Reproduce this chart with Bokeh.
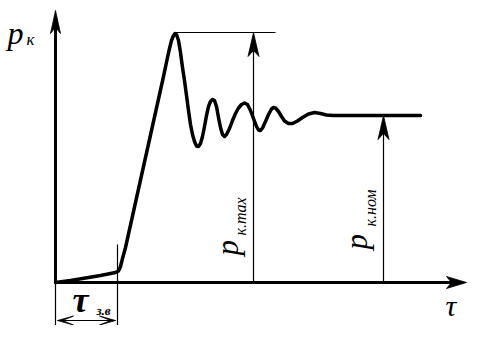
import math
from bokeh.plotting import figure
from bokeh.models import Range1d
from bokeh.core.properties import value
from bokeh.embed import file_html
from bokeh.resources import INLINE

# ---- data (time t, pressure p) in chart units ----
curve_t = [0, 15, 30, 45, 55, 60, 63, 65, 67, 70, 80, 90, 100, 108, 112, 114, 116, 118, 119.5,
           121, 123, 125, 127, 129, 131, 133, 135, 137, 139, 141, 143, 145, 147, 149, 151, 153,
           155, 157, 159, 161, 163, 165, 167, 169, 171, 174, 177, 180, 183, 186, 189, 192, 195,
           198, 201, 203, 205, 207, 210, 213, 216, 218, 220, 223, 226, 229, 233, 237, 242, 247,
           253, 259, 265, 271, 278, 290, 365]
curve_p = [0, 2, 4.5, 7, 9, 10, 11.5, 16, 24, 35, 80, 125, 170, 206, 225, 234, 242, 247, 249,
           248, 242, 230, 215, 202, 187, 172, 158, 148, 141, 136.5, 136, 139, 146, 156, 167, 176,
           181, 183, 182, 176, 165, 155, 148, 146, 148, 154, 162, 169, 174.5, 178, 179.5, 178, 172,
           164, 156, 152.5, 152, 154.5, 161, 168, 173.5, 175, 174.5, 171, 166, 161.5, 159, 159, 161.5, 165,
           168.5, 170, 169, 167.5, 167, 167, 167]

P_MAX = 250          # p_k.max level
P_NOM = 167          # p_k.nom level
T_ZV = 62            # tau_z.v (delay)
T_MAX_MARK = 198     # position of p_k.max arrow
T_NOM_MARK = 328     # position of p_k.nom arrow
T_PEAK_LINE_END = 220
T_AXIS_END = 411
P_AXIS_END = 272
P_DIM_LINE = -38     # level of the tau_z.v dimension arrow

labels_main = ["p", "p", "p", "τ", "τ"]
labels_sub = ["к", "к.max", "к.ном", "з.в"]

FONT = value("Liberation Serif")

p = figure(width=468, height=325, x_range=Range1d(-55, 413), y_range=Range1d(-43, 282),
           output_backend="svg", toolbar_location=None, min_border=0,
           x_axis_location=None, y_axis_location=None)
p.grid.visible = False
p.outline_line_color = None
p.background_fill_color = "white"
p.border_fill_color = "white"


def head(tx, ty, dx, dy, L, W, n):
    bx, by = tx - L * dx, ty - L * dy
    px, py = -dy, dx
    nx, ny = bx + n * dx, by + n * dy
    return ([tx, bx + W * px, nx, bx - W * px], [ty, by + W * py, ny, by - W * py])


# axes
p.line([0, 0], [0, P_AXIS_END - 10], line_width=3, line_color="black")
p.line([0, T_AXIS_END - 10], [0, 0], line_width=3, line_color="black")

# thin guide lines
p.line([0, 0], [0, -60], line_width=1.2, line_color="black")
p.line([T_ZV, T_ZV], [38, -60], line_width=1.2, line_color="black")
p.line([119.5, T_PEAK_LINE_END], [P_MAX, P_MAX], line_width=1.2, line_color="black")
p.line([T_MAX_MARK, T_MAX_MARK], [0, P_MAX - 10], line_width=1.2, line_color="black")
p.line([T_NOM_MARK, T_NOM_MARK], [0, P_NOM - 10], line_width=1.2, line_color="black")
p.line([2, T_ZV - 2], [P_DIM_LINE, P_DIM_LINE], line_width=1.2, line_color="black")

# arrow heads
heads = [
    head(0, P_AXIS_END, 0, 1, 23, 5, 6),
    head(T_AXIS_END, 0, 1, 0, 20, 6, 5),
    head(T_MAX_MARK, P_MAX, 0, 1, 24, 5.5, 6),
    head(T_NOM_MARK, P_NOM, 0, 1, 24, 5.5, 6),
    head(2, P_DIM_LINE, -1, 0, 16, 4.5, 11),
    head(T_ZV - 2, P_DIM_LINE, 1, 0, 16, 4.5, 11),
]
p.patches([h[0] for h in heads], [h[1] for h in heads], fill_color="black", line_color="black",
          line_width=0.8)

# curve
p.line(curve_t, curve_p, line_width=3.5, line_color="black", line_join="round", line_cap="round")

# texts
p.text([-48], [250], text=[labels_main[0]], text_font=FONT, text_font_style="italic",
       text_font_size="32px", text_align="left", text_baseline="alphabetic")
p.text([-29], [243], text=[labels_sub[0]], text_font=FONT, text_font_style="italic",
       text_font_size="17px", text_align="left", text_baseline="alphabetic")

p.text([172], [27], text=[labels_main[1]], text_font=FONT, text_font_style="italic",
       text_font_size="31px", text_align="left", text_baseline="alphabetic", angle=math.pi / 2)
p.text([185], [47], text=[labels_sub[1]], text_font=FONT, text_font_style="italic",
       text_font_size="16px", text_align="left", text_baseline="alphabetic", angle=math.pi / 2)

p.text([301], [33], text=[labels_main[2]], text_font=FONT, text_font_style="italic",
       text_font_size="31px", text_align="left", text_baseline="alphabetic", angle=math.pi / 2)
p.text([315], [56], text=[labels_sub[2]], text_font=FONT, text_font_style="italic",
       text_font_size="16px", text_align="left", text_baseline="alphabetic", angle=math.pi / 2)

p.text([390], [-23], text=[labels_main[3]], text_font=FONT, text_font_style="italic",
       text_font_size="30px", text_align="left", text_baseline="alphabetic")

p.text([17], [-17], text=[labels_main[4]], text_font=FONT, text_font_style="bold italic",
       text_font_size="36px", text_align="left", text_baseline="alphabetic")
p.text([41], [-28], text=[labels_sub[3]], text_font=FONT, text_font_style="bold italic",
       text_font_size="13px", text_align="left", text_baseline="alphabetic")

open("out.html", "w").write(file_html(p, INLINE))
